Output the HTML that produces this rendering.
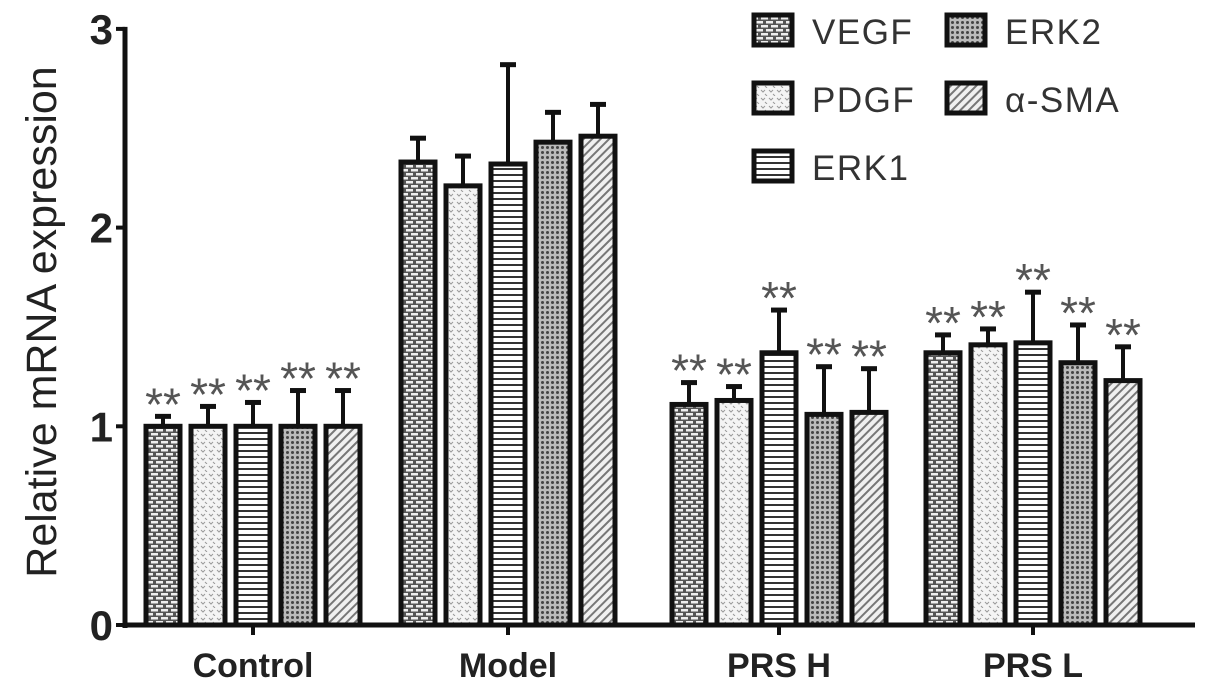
<!DOCTYPE html>
<html><head><meta charset="utf-8"><style>
html,body{margin:0;padding:0;background:#fff;}
svg{display:block;font-family:"Liberation Sans",Arial,sans-serif;}
</style></head><body>
<svg id="chart" width="1205" height="690" viewBox="0 0 1205 690">
<defs>
<pattern id="p0" width="10" height="8" patternUnits="userSpaceOnUse">
<rect width="10" height="8" fill="#555"/>
<rect x="1" y="1" width="7" height="2.5" fill="#eee"/>
<rect x="-4" y="5" width="7" height="2.5" fill="#eee"/><rect x="6" y="5" width="7" height="2.5" fill="#eee"/>
</pattern>
<pattern id="p1" width="8" height="8" patternUnits="userSpaceOnUse">
<rect width="8" height="8" fill="#f4f4f4"/>
<path d="M1 2 L3 4 L5 2 M5 6 L7 8" stroke="#999" stroke-width="1" fill="none"/>
</pattern>
<pattern id="p2" width="6" height="6" patternUnits="userSpaceOnUse">
<rect width="6" height="6" fill="#fff"/><rect y="0" width="6" height="2" fill="#333"/>
</pattern>
<pattern id="p3" width="5" height="5" patternUnits="userSpaceOnUse">
<rect width="5" height="5" fill="#bbb"/><circle cx="2.5" cy="2.5" r="1.5" fill="#444"/>
</pattern>
<pattern id="p4" width="6" height="6" patternUnits="userSpaceOnUse" patternTransform="rotate(45)">
<rect width="6" height="6" fill="#f0f0f0"/><rect width="2" height="6" fill="#777"/>
</pattern>
</defs>
<g id="plot"></g>
</svg>
<script>
const categories = ["Control","Model","PRS H","PRS L"];
const series = ["VEGF","PDGF","ERK1","ERK2","α-SMA"];
const vegf = [1.0, 2.33, 1.11, 1.37];
const pdgf = [1.0, 2.21, 1.13, 1.41];
const erk1 = [1.0, 2.32, 1.37, 1.42];
const erk2 = [1.0, 2.43, 1.06, 1.32];
const asma = [1.0, 2.46, 1.07, 1.23];
const vegfErr = [0.05, 0.12, 0.11, 0.09];
const pdgfErr = [0.10, 0.15, 0.07, 0.08];
const erk1Err = [0.12, 0.50, 0.215, 0.255];
const erk2Err = [0.18, 0.15, 0.24, 0.19];
const asmaErr = [0.18, 0.16, 0.22, 0.17];
const significant = [true, false, true, true];
const yTicks = [0,1,2,3];
const values = [vegf,pdgf,erk1,erk2,asma];
const errs = [vegfErr,pdgfErr,erk1Err,erk2Err,asmaErr];

const NS="http://www.w3.org/2000/svg";
const g=document.getElementById('plot');
const y0=625, pxPerUnit=198.7, axisX=125, axisEnd=1195;
const groupCenters=[253,508,779,1033];
const barW=34, pitch=45;
function yScale(v){return y0 - v*pxPerUnit;}
function xBar(gi,si){return groupCenters[gi] + (si-2)*pitch - barW/2;}
function mk(tag,attrs,parent){const e=document.createElementNS(NS,tag);for(const k in attrs)e.setAttribute(k,attrs[k]);(parent||g).appendChild(e);return e;}

for(let gi=0;gi<categories.length;gi++){
  for(let si=0;si<series.length;si++){
    const v=values[si][gi], e=errs[si][gi];
    const x=xBar(gi,si), cx=x+barW/2;
    const top=yScale(v), et=yScale(v+e);
    const ln=mk('line',{x1:cx,x2:cx,y1:top,y2:et,stroke:'#111','stroke-width':4});
    
    
    const cap=mk('line',{x1:cx-8,x2:cx+8,y1:et,y2:et,stroke:'#111','stroke-width':5});
    
    
    const r=mk('rect',{x:x,y:top,width:barW,height:y0-top,fill:'url(#p'+si+')',stroke:'#111','stroke-width':5});
    
    
    if(significant[gi]){
      const t=mk('text',{x:cx,y:et+4,'text-anchor':'middle',style:'font-size:46px',fill:'#555'});
      t.textContent='**';
      
      
    }
  }
}
const ya=mk('line',{x1:axisX,x2:axisX,y1:yScale(3)-2,y2:y0+3,stroke:'#111','stroke-width':5});


const xa=mk('line',{x1:axisX-2,x2:axisEnd,y1:y0,y2:y0,stroke:'#111','stroke-width':5});


yTicks.forEach(t=>{
  const y=yScale(t);
  mk('line',{x1:axisX-9,x2:axisX,y1:y,y2:y,stroke:'#111','stroke-width':4});
  const tx=mk('text',{x:axisX-12,y:y+15,'text-anchor':'end',style:'font-size:42px','font-weight':'bold',fill:'#222'});
  tx.textContent=t;
  
  
});
categories.forEach((c,gi)=>{
  mk('line',{x1:groupCenters[gi],x2:groupCenters[gi],y1:y0,y2:y0+10,stroke:'#111','stroke-width':4});
  const tx=mk('text',{x:groupCenters[gi],y:y0+52,'text-anchor':'middle',style:'font-size:34px','font-weight':'bold',fill:'#222'});
  tx.textContent=c;
  
  
});
const yt=mk('text',{x:0,y:0,transform:'translate(56,322) rotate(-90)','text-anchor':'middle',style:'font-size:43px',fill:'#222'});
yt.textContent='Relative mRNA expression';


const legPos=[[752,13],[752,81],[752,149],[945,13],[945,81]];
series.forEach((s,si)=>{
  const [lx,ly]=legPos[si];
  const r=mk('rect',{x:lx+2,y:ly+2,width:38,height:30,fill:'url(#p'+si+')',stroke:'#111','stroke-width':5});
  
  
  const t=mk('text',{x:lx+60,y:ly+31,style:'font-size:35px','letter-spacing':'1.5',fill:'#333'});
  t.textContent=s;
  
  
});
</script>
</body></html>
